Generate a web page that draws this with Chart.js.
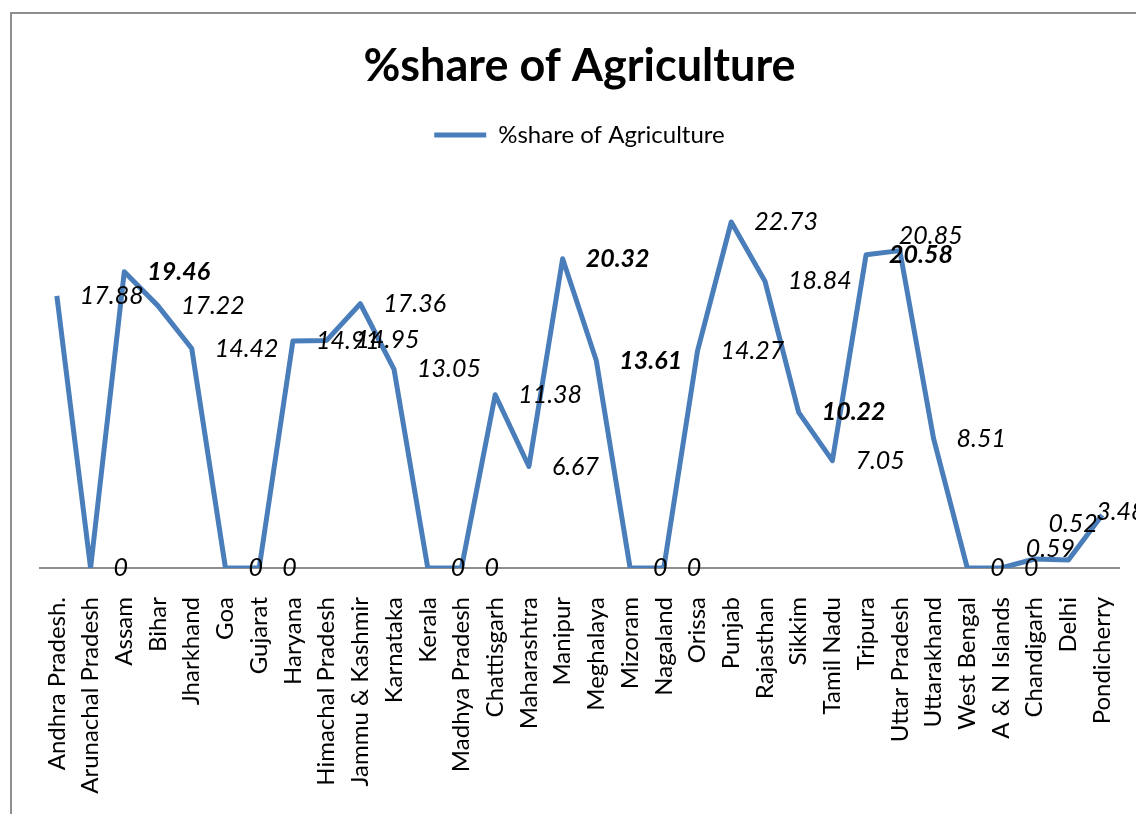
<!DOCTYPE html>
<html>
<head>
<meta charset="utf-8">
<script src="https://cdn.jsdelivr.net/npm/chart.js@4.4.1/dist/chart.umd.min.js"></script>
<style>
html, body { margin: 0; padding: 0; background: #fff; overflow: hidden; }
#frame { position: absolute; left: 10px; top: 12px; width: 1150px; height: 820px; border: 2px solid #8e8e8e; }
#chart { display: block; }
</style>
</head>
<body>
<div id="frame"><canvas id="chart" width="1136" height="800"></canvas></div>
<script>
const states = ['Andhra Pradesh.', 'Arunachal Pradesh', 'Assam', 'Bihar', 'Jharkhand', 'Goa', 'Gujarat',
    'Haryana', 'Himachal Pradesh', 'Jammu & Kashmir', 'Karnataka', 'Kerala', 'Madhya Pradesh',
    'Chattisgarh', 'Maharashtra', 'Manipur', 'Meghalaya', 'Mizoram', 'Nagaland', 'Orissa', 'Punjab',
    'Rajasthan', 'Sikkim', 'Tamil Nadu', 'Tripura', 'Uttar Pradesh', 'Uttarakhand', 'West Bengal',
    'A & N Islands', 'Chandigarh', 'Delhi', 'Pondicherry'];

const agriShare = [17.88, 0, 19.46, 17.22, 14.42, 0, 0, 14.91, 14.95, 17.36, 13.05, 0, 0, 11.38, 6.67,
    20.32, 13.61, 0, 0, 14.27, 22.73, 18.84, 10.22, 7.05, 20.58, 20.85, 8.51, 0, 0, 0.59, 0.52, 3.48];

// states whose value label is printed in bold
const boldStates = ['Assam', 'Manipur', 'Meghalaya', 'Sikkim', 'Tripura'];

const font = 'Lato';

// value labels drawn to the right of each point, like the excel sheet
const pointLabels = {
    id: 'pointLabels',
    afterDatasetsDraw(chart, args, opts) {
        const ctx = chart.ctx;
        const meta = chart.getDatasetMeta(0);
        ctx.save();
        ctx.textBaseline = 'middle';
        ctx.textAlign = 'left';
        ctx.fillStyle = '#000';
        meta.data.forEach((pt, i) => {
            let bold = boldStates.includes(states[i]);
            ctx.font = 'italic ' + (bold ? 'bold ' : '') + opts.size + 'px ' + font;
            let nudge = opts.nudge[i] || [0, 0];
            ctx.fillText(String(agriShare[i]), pt.x + opts.gap + nudge[0], pt.y + nudge[1]);
        });
        ctx.restore();
    }
};

const ctx = document.getElementById('chart');

let myChart = new Chart(ctx, {
    type: 'line',
    data: {
        labels: states,
        datasets: [{
            label: '%share of Agriculture',
            data: agriShare,
            borderColor: '#4a7ebb',
            backgroundColor: '#4a7ebb',
            borderWidth: 5,
            borderJoinStyle: 'round',
            pointRadius: 0,
            tension: 0,
            fill: false
        }]
    },
    options: {
        responsive: false,
        animation: false,
        layout: { padding: { left: 28, right: 29, top: 0, bottom: 0 } },
        plugins: {
            title: {
                display: true,
                text: '%share of Agriculture',
                color: '#000',
                font: { family: font, size: 45, weight: 'bold', lineHeight: 1 },
                padding: { top: 30, bottom: 0 }
            },
            legend: {
                labels: {
                    color: '#000',
                    font: { family: font, size: 24 },
                    usePointStyle: true,
                    pointStyle: 'line',
                    pointStyleWidth: 52,
                    padding: 34
                }
            },
            tooltip: { enabled: false },
            pointLabels: {
                size: 25,
                gap: 23,
                nudge: { 8: [6, 0], 25: [-24, -15], 29: [-32, -10], 30: [-43, -36], 31: [-29, -3] }
            }
        },
        scales: {
            x: {
                offset: true,
                grid: { display: false, drawTicks: false },
                border: { display: true, color: '#8e8e8e', width: 2 },
                ticks: {
                    color: '#000',
                    font: { family: font, size: 24 },
                    maxRotation: 90,
                    minRotation: 90,
                    padding: 29,
                    autoSkip: false
                },
                afterFit: (scale) => {
                    scale.height = 246;
                    scale.paddingLeft = 0;
                    scale.paddingRight = 0;
                }
            },
            y: { display: false, min: 0, max: 27 }
        }
    },
    plugins: [pointLabels]
});
</script>
</body>
</html>
